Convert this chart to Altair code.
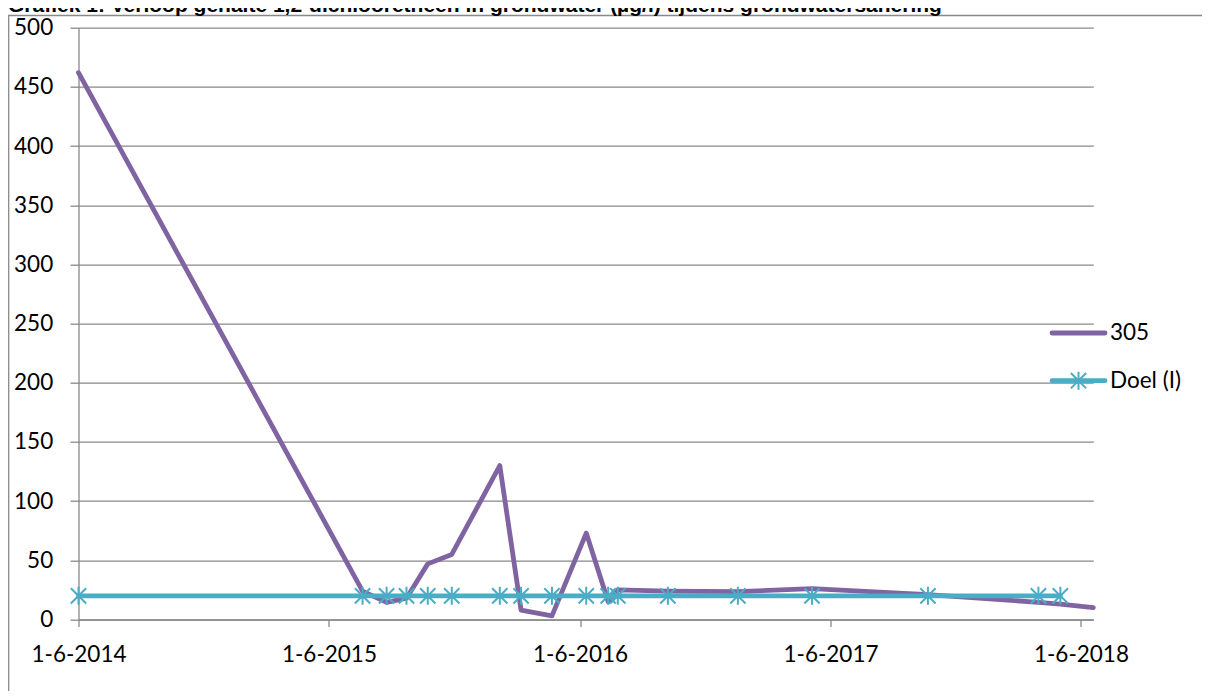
import altair as alt
import pandas as pd

# ---- data ----
dates = ["2014-06-01", "2015-07-20", "2015-08-24", "2015-09-22", "2015-10-23",
         "2015-11-27", "2016-02-05", "2016-03-07", "2016-04-21", "2016-06-10",
         "2016-07-12", "2016-07-26", "2016-10-07", "2017-01-17", "2017-05-05",
         "2017-10-21", "2018-03-31", "2018-05-02", "2018-06-19"]
values_305 = [462, 24, 14.5, 18, 47, 55, 130, 8, 3, 73,
              15, 25, 24, 23.5, 26, 21, 14.5, 13, 10]
doel_dates = ["2014-06-01", "2015-07-20", "2015-08-24", "2015-09-22", "2015-10-23",
              "2015-11-27", "2016-02-05", "2016-03-07", "2016-04-21", "2016-06-10",
              "2016-07-12", "2016-07-26", "2016-10-07", "2017-01-17", "2017-05-05",
              "2017-10-21", "2018-03-31", "2018-05-02"]
doel_values = [20, 20, 20, 20, 20, 20, 20, 20, 20, 20, 20, 20, 20, 20, 20, 20, 20, 20]
series_names = ["305", "Doel (I)"]
y_ticks = [0, 50, 100, 150, 200, 250, 300, 350, 400, 450, 500]
x_tick_years = [2014, 2015, 2016, 2017, 2018]
title_text = "Grafiek 1: Verloop gehalte 1,2-dichlooretheen in grondwater (µg/l) tijdens grondwatersanering"

PURPLE = "#8064A2"
TEAL = "#4BACC6"
GRID = "#898989"
FONT = "Lato"
FS = 22.5
LW = 4.8
STAR = "M0,-1L0,1M-0.85,-0.85L0.85,0.85M-0.85,0.85L0.85,-0.85"

df305 = pd.DataFrame({"date": dates, "value": values_305})
dfdoel = pd.DataFrame({"date": doel_dates, "value": doel_values})
one = pd.DataFrame({"k": [0]})

TOTAL_W, TOTAL_H = 1194, 683
W, H = 1014.8, 591.8
PAD = {"left": 70.5, "top": 19.7, "right": TOTAL_W - 70.5 - W, "bottom": TOTAL_H - 19.7 - H}

xscale = alt.Scale(type="utc", nice=False,
                   domain=[alt.DateTime(year=2014, month=6, date=1, utc=True),
                           alt.DateTime(year=2018, month=6, date=19, utc=True)])
yscale = alt.Scale(domain=[0, 500], nice=False, zero=True)

xaxis = alt.Axis(values=[alt.DateTime(year=y, month=6, date=1, utc=True) for y in x_tick_years],
                 format="%-d-%-m-%Y", title=None, grid=False,
                 labelFont=FONT, labelFontSize=FS, labelColor="black",
                 tickSize=7, tickColor=GRID, tickWidth=1.3,
                 domainColor=GRID, domainWidth=1.3, labelPadding=17,
                 labelFlush=False, labelOverlap=False)
yaxis = alt.Axis(values=y_ticks, title=None, grid=True, gridColor=GRID, gridWidth=1.3,
                 labelFont=FONT, labelFontSize=FS, labelColor="black",
                 labelAlign="right", labelBaseline="middle",
                 tickSize=8.5, tickColor=GRID, tickWidth=1.3,
                 domainColor=GRID, domainWidth=1.3, labelPadding=17.3)

line305 = alt.Chart(df305).mark_line(color=PURPLE, strokeWidth=LW,
                                     strokeJoin="round", strokeCap="round").encode(
    x=alt.X("date:T", scale=xscale, axis=xaxis),
    y=alt.Y("value:Q", scale=yscale, axis=yaxis),
)
linedoel = alt.Chart(dfdoel).mark_line(color=TEAL, strokeWidth=LW,
                                       strokeJoin="round", strokeCap="round").encode(
    x=alt.X("date:T", scale=xscale),
    y=alt.Y("value:Q", scale=yscale),
)
stars = alt.Chart(dfdoel).mark_point(shape=STAR, filled=False, stroke=TEAL,
                                     strokeWidth=2, size=324, opacity=1).encode(
    x=alt.X("date:T", scale=xscale),
    y=alt.Y("value:Q", scale=yscale),
)

# frame and (cut-off) title
top_y = 7.5 - PAD["top"]
border_top = alt.Chart(one).mark_rule(color=GRID, strokeWidth=1.3).encode(
    x=alt.value(-PAD["left"]), x2=alt.value(W + PAD["right"]), y=alt.value(top_y))
border_left = alt.Chart(one).mark_rule(color=GRID, strokeWidth=1.3).encode(
    x=alt.value(0.7 - PAD["left"]), y=alt.value(top_y), y2=alt.value(H + PAD["bottom"]))
title = alt.Chart(one).mark_text(text=title_text, font="Liberation Sans", fontWeight="bold",
                                 fontSize=21, align="left", baseline="alphabetic",
                                 color="black").encode(
    x=alt.value(-PAD["left"]), y=alt.value(3.5 - PAD["top"]))

# legend
lx0, lx1 = 973.5, 1026.5
ly1, ly2 = 305.3, 353.0
leg_line1 = alt.Chart(one).mark_rule(color=PURPLE, strokeWidth=LW, strokeCap="round").encode(
    x=alt.value(lx0), x2=alt.value(lx1), y=alt.value(ly1))
leg_line2 = alt.Chart(one).mark_rule(color=TEAL, strokeWidth=LW, strokeCap="round").encode(
    x=alt.value(lx0), x2=alt.value(lx1), y=alt.value(ly2))
leg_star = alt.Chart(one).mark_point(shape=STAR, filled=False, stroke=TEAL,
                                     strokeWidth=2, size=324, opacity=1).encode(
    x=alt.value((lx0 + lx1) / 2), y=alt.value(ly2))
leg_t1 = alt.Chart(one).mark_text(text=series_names[0], font=FONT, fontSize=FS,
                                  align="left", baseline="middle", color="black").encode(
    x=alt.value(lx1 + 5), y=alt.value(ly1))
leg_t2 = alt.Chart(one).mark_text(text=series_names[1], font=FONT, fontSize=FS,
                                  align="left", baseline="middle", color="black").encode(
    x=alt.value(lx1 + 5), y=alt.value(ly2))

chart = alt.layer(
    line305, linedoel, stars, border_top, border_left, title,
    leg_line1, leg_line2, leg_star, leg_t1, leg_t2,
).properties(
    width=W, height=H,
    autosize=alt.AutoSizeParams(type="none"),
    padding=PAD,
    background="white",
).configure_view(stroke="transparent")

chart.save("out.html", embed_options={"renderer": "svg", "actions": False})
